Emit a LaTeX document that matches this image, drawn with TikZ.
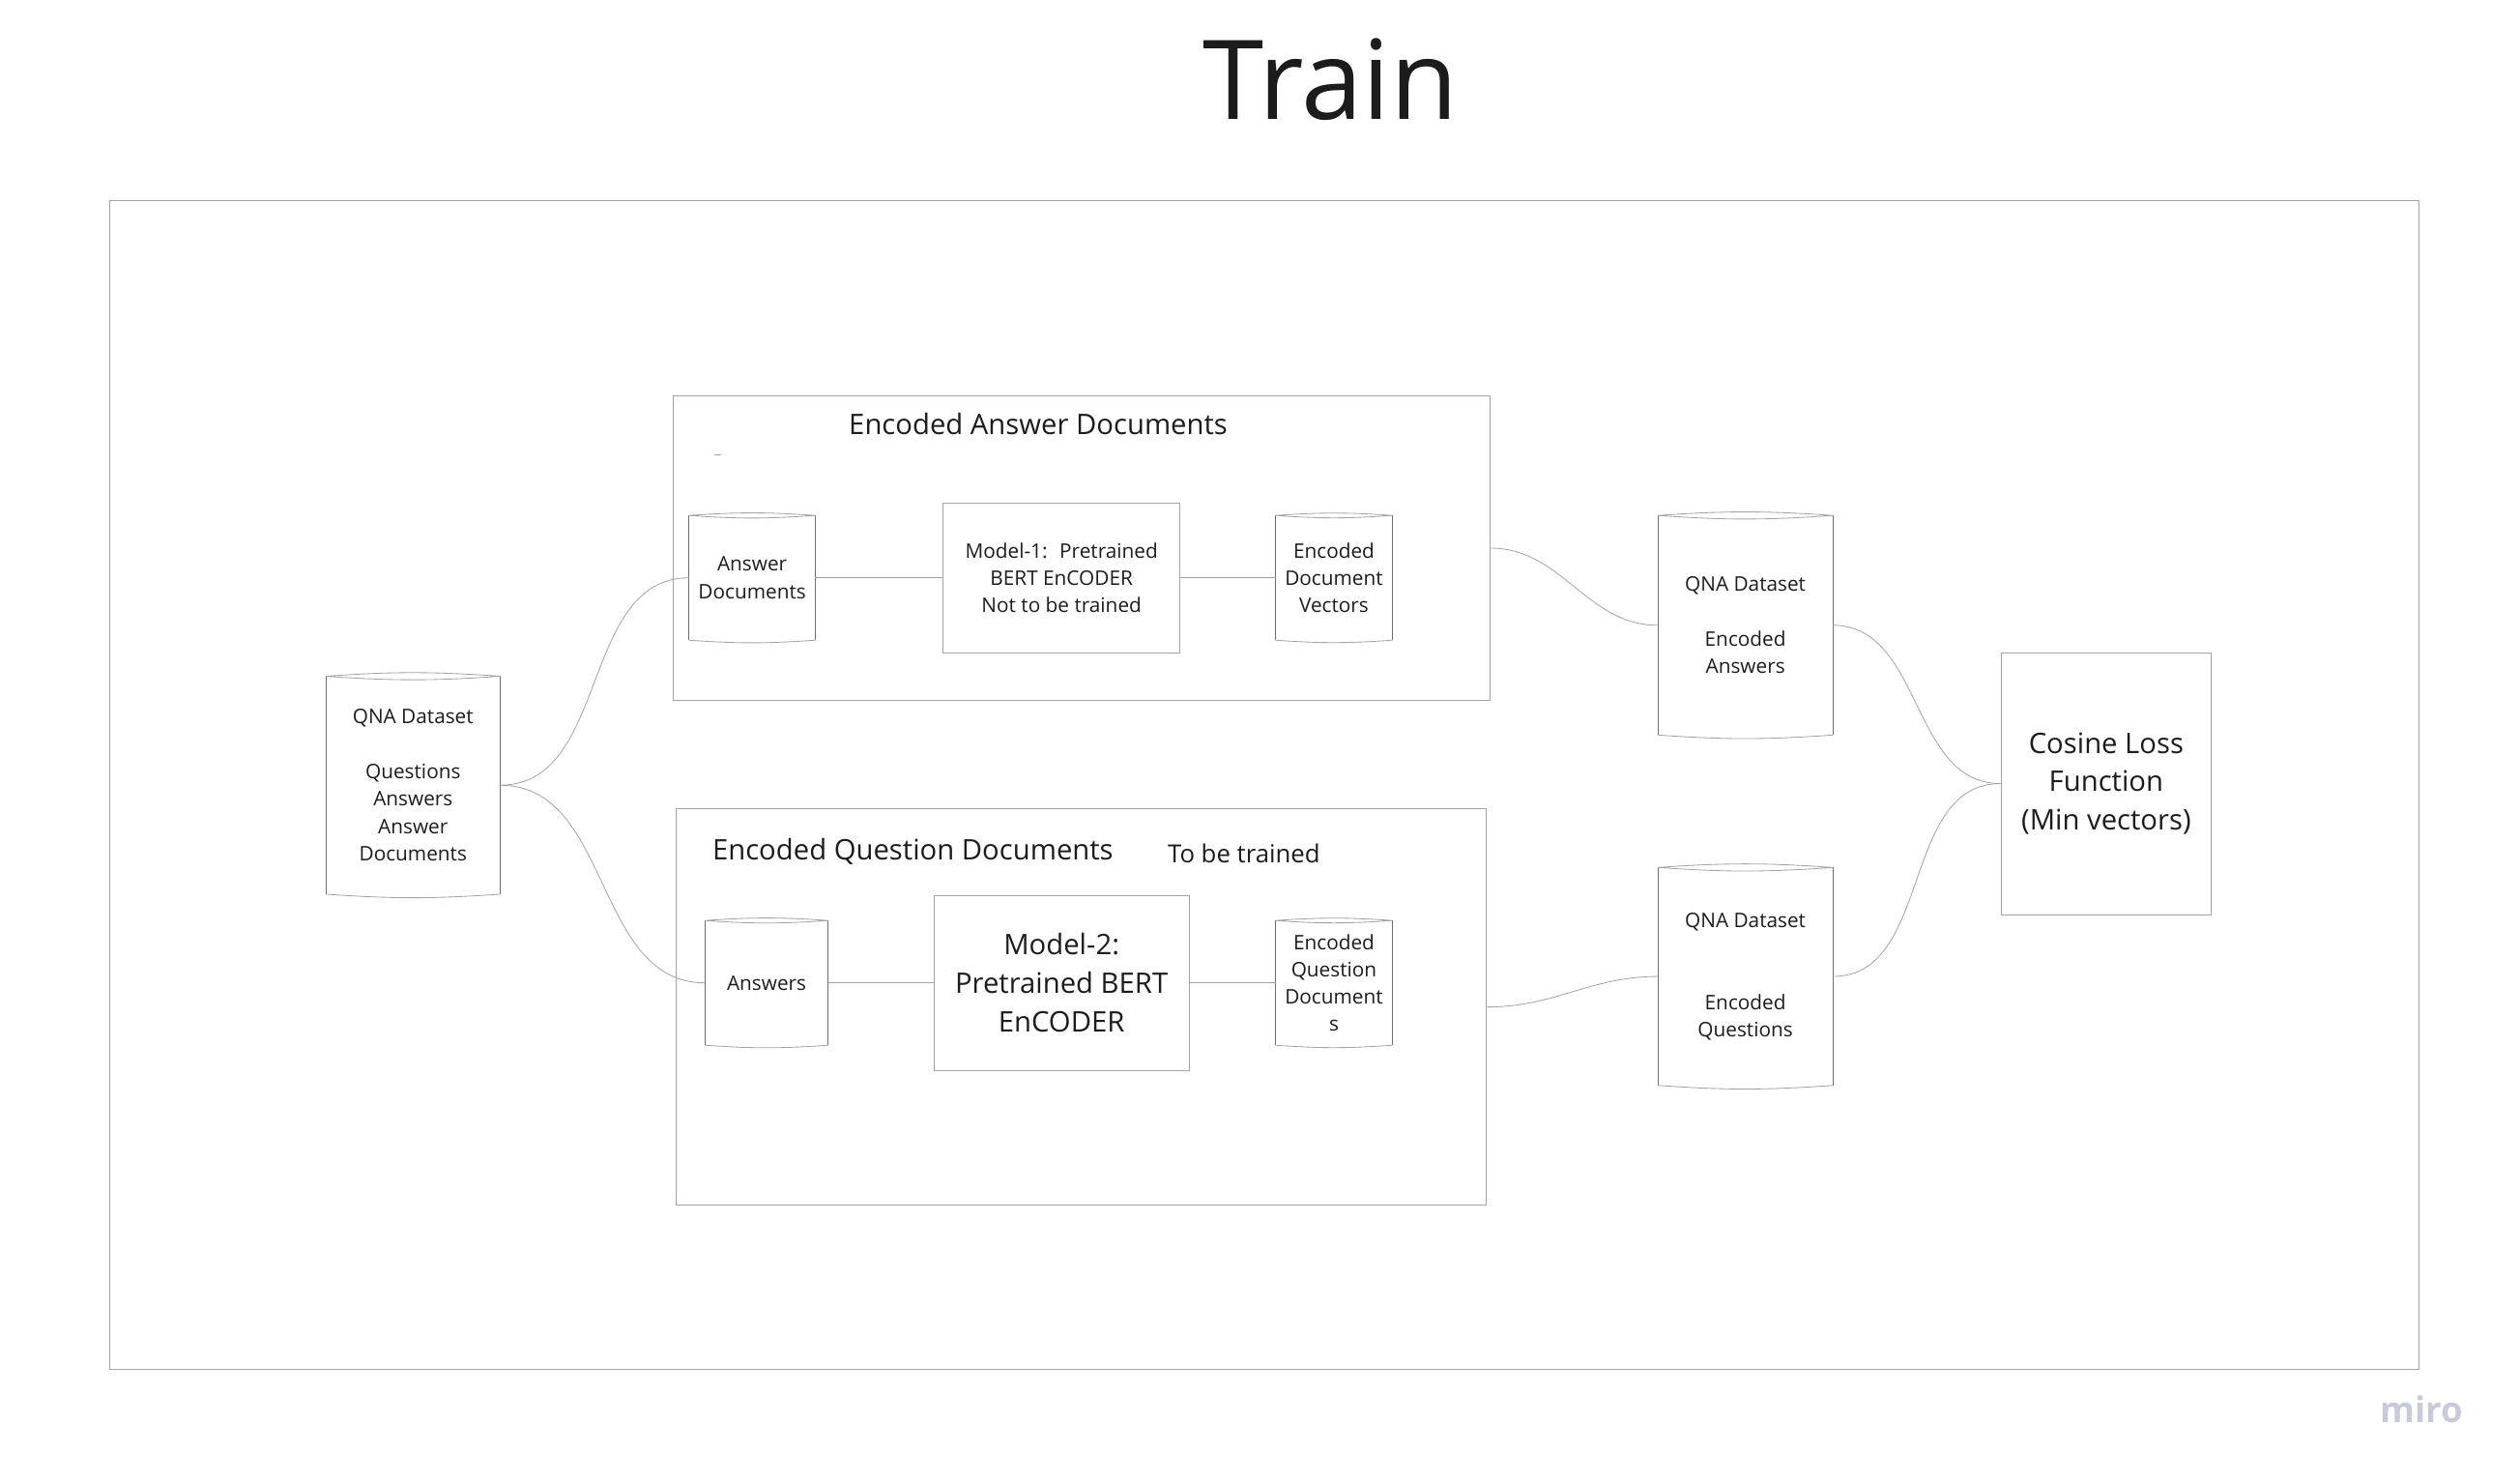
\documentclass[tikz,border=0pt]{standalone}
\usepackage{fontspec}
\setmainfont{Open Sans}
\usetikzlibrary{positioning}
\definecolor{linegray}{HTML}{A3A3A3}
\definecolor{sidegray}{HTML}{6E6E6E}
\definecolor{inkblack}{HTML}{1C1C1C}
\definecolor{mirogray}{HTML}{C9C9DB}
\begin{document}
\begin{tikzpicture}[x=1pt,y=-1pt,
  line width=0.6pt,
  box node/.style={rectangle,draw=linegray,text=inkblack,align=center,inner sep=0pt},
  store node/.style={rectangle,text=inkblack,align=center,inner sep=0pt},
  small text/.style={font=\fontsize{12.5}{17}\selectfont},
  big text/.style={font=\fontsize{17.6}{24}\selectfont},
  link/.style={draw=linegray,line width=0.5pt}]

  \useasboundingbox (0,0) rectangle (1568,922);

  \node[text=inkblack,font=\fontsize{68.6}{80}\selectfont,anchor=base] (title) at (828,74) {Train};
  \node[draw=linegray,minimum width=1437,minimum height=727,inner sep=0pt] (frame) at (786.5,488.5) {};

  % group boxes
  \node[box node,minimum width=508,minimum height=190] (ansgroup) at (673,341) {};
  \node[big text,text=inkblack,anchor=base] (ansgrouptitle) at (646,270.2) {Encoded Answer Documents};
  \draw[linegray,line width=0.4pt] (444.5,282.7) -- (448.5,282.7);
  \node[box node,minimum width=504,minimum height=247] (quesgroup) at (673,626.5) {};
  \node[big text,text=inkblack,anchor=base] (quesgrouptitle) at (568,534.9) {Encoded Question Documents};
  \node[text=inkblack,font=\fontsize{15.5}{20}\selectfont,anchor=base] (trainnote) at (774,536.9) {To be trained};

  % stores
  \node[store node,small text,minimum width=108,minimum height=135] (qna) at (257,488.5) {QNA Dataset\\[17pt]Questions\\Answers\\Answer\\Documents};
  \node[store node,small text,minimum width=78,minimum height=77] (ansdoc) at (468,359.5) {Answer\\Documents};
  \node[store node,small text,minimum width=72,minimum height=77] (encvec) at (830,359.5) {Encoded\\Document\\Vectors};
  \node[store node,small text,minimum width=76,minimum height=77] (answers) at (477,611.5) {Answers};
  \node[store node,small text,minimum width=72,minimum height=77] (encq) at (830,611.5) {Encoded\\Question\\Document\\s};
  \node[store node,small text,minimum width=108,minimum height=136] (encans) at (1086,389) {QNA Dataset\\[17pt]Encoded\\Answers};
  \node[store node,small text,minimum width=108,minimum height=135] (encques) at (1086,607.5) {QNA Dataset\\[34pt]Encoded\\Questions};

  % models
  \node[box node,small text,minimum width=147,minimum height=93] (model1) at (660.5,359.5) {Model-1:~ Pretrained\\BERT EnCODER\\Not to be trained};
  \node[box node,big text,minimum width=159,minimum height=109] (model2) at (660.5,611.5) {Model-2:\\Pretrained BERT\\EnCODER};
  \node[box node,big text,minimum width=131,minimum height=163] (cosine) at (1310.5,487.5) {Cosine Loss\\Function\\(Min vectors)};

  \foreach \n in {qna,ansdoc,encvec,answers,encq,encans,encques}{
    \draw[sidegray,line width=0.5pt] (\n.north west) -- (\n.south west) (\n.north east) -- (\n.south east);
    \draw[linegray,line width=0.5pt] (\n.north west) to[bend left=4] (\n.north east) to[bend left=4] (\n.north west);
    \draw[linegray,line width=0.5pt] (\n.south west) to[bend right=4] (\n.south east);
  }

  \path[link]
    (qna.east) edge[out=0,in=180] (ansdoc.west)
    (qna.east) edge[out=0,in=180] (answers.west)
    (ansdoc) edge (model1)
    (model1) edge (encvec)
    (answers) edge (model2)
    (model2) edge (encq)
    (ansgroup.east) edge[out=0,in=180] (encans.west)
    (quesgroup.east) edge[out=0,in=180] (encques.west)
    (encans.east) edge[out=0,in=180] (cosine.west)
    (encques.east) edge[out=0,in=180] (cosine.west);

  \node[font=\fontsize{22}{26}\selectfont\bfseries,text=mirogray,anchor=base] (miro) at (1507,885) {miro};
\end{tikzpicture}
\end{document}
